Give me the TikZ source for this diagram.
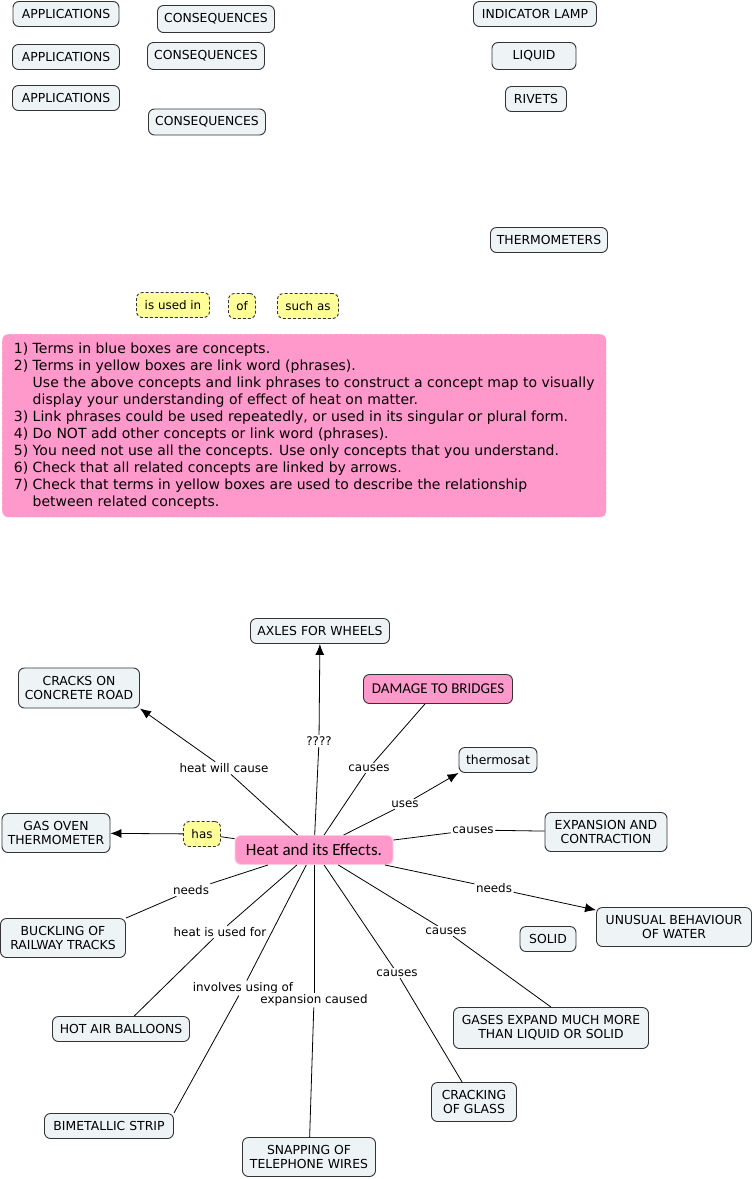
\documentclass[tikz,border=0pt]{standalone}
\usepackage{fontspec}
\setmainfont{DejaVu Sans}
\newfontfamily\handfont{Carlito}
\usetikzlibrary{shapes}
\usetikzlibrary{arrows.meta}

\definecolor{conceptblue}{RGB}{238,243,246}
\definecolor{linkyellow}{RGB}{255,255,153}
\definecolor{mappink}{RGB}{255,153,204}
\definecolor{pinkedge}{RGB}{255,205,222}

\begin{document}
\begin{tikzpicture}[x=1pt,y=-1pt,font=\fontsize{11.9}{14}\selectfont]
\tikzstyle{concept} = [rectangle, draw=black!80, line width=0.9pt, fill=conceptblue,
align=center, rounded corners=6pt, minimum height=25pt, inner xsep=4pt, inner ysep=3pt,
font=\fontsize{12.4}{14}\selectfont]
\tikzstyle{linker} = [rectangle, draw=black!80, line width=0.9pt, dash pattern=on 3pt off 2pt,
fill=linkyellow, rounded corners=6pt, minimum height=25pt, inner xsep=4pt]
\tikzstyle{phrase} = [fill=white, inner sep=1.5pt]
\tikzstyle{topic} = [rectangle, draw=pinkedge, line width=0.9pt, fill=mappink,
rounded corners=6pt, minimum height=29pt, font=\handfont\fontsize{17}{19}\selectfont]
\tikzstyle{connector} = [draw, line width=0.8pt]
\tikzstyle{arrowed} = [draw, line width=0.8pt, -{Latex[length=11pt,width=9pt]}]

\fill[white] (0,0) rectangle (755,1179);
\useasboundingbox (0,0) rectangle (755,1179);

% concepts to be used
\node [concept, minimum width=106pt] (app1) at (66,14) {APPLICATIONS};
\node [concept, minimum width=117pt, minimum height=27pt] (cons1) at (216,19) {CONSEQUENCES};
\node [concept, minimum width=107pt] (app2) at (66,57) {APPLICATIONS};
\node [concept, minimum width=117pt, minimum height=27pt] (cons2) at (206,56) {CONSEQUENCES};
\node [concept, minimum width=107pt] (app3) at (66,98) {APPLICATIONS};
\node [concept, minimum width=117pt, minimum height=26pt] (cons3) at (207,122) {CONSEQUENCES};
\node [concept, minimum width=123pt] (lamp) at (535,14) {INDICATOR LAMP};
\node [concept, minimum width=84pt, minimum height=27pt] (liquid) at (534,56) {LIQUID};
\node [concept, minimum width=61pt] (rivets) at (536,99) {RIVETS};
\node [concept, minimum width=117pt] (thermometers) at (549,240) {THERMOMETERS};

% link phrases to be used
\node [linker, minimum width=73pt] (usedin) at (173,305) {is used in};
\node [linker, minimum width=27pt] (of) at (242,306) {of};
\node [linker, minimum width=61pt] (suchas) at (308,306) {such as};

% instructions
\node [rectangle, draw=pinkedge, dash pattern=on 3pt off 2pt, fill=mappink,
rounded corners=6pt, anchor=north west, minimum width=604pt, minimum height=183pt,
align=left, font=\fontsize{14}{17}\selectfont] (rules) at (2,334)
{1) Terms in blue boxes are concepts.\\
2) Terms in yellow boxes are link word (phrases).\\
\phantom{2) }Use the above concepts and link phrases to construct a concept map to visually\\
\phantom{2) }display your understanding of effect of heat on matter.\\
3) Link phrases could be used repeatedly, or used in its singular or plural form.\\
4) Do NOT add other concepts or link word (phrases).\\
5) You need not use all the concepts. Use only concepts that you understand.\\
6) Check that all related concepts are linked by arrows.\\
7) Check that terms in yellow boxes are used to describe the relationship\\
\phantom{7) }between related concepts.};

% the map
\node [topic, minimum width=158pt] (heat) at (314,850) {Heat and its Effects.};
\node [concept, minimum width=139pt] (axles) at (320,631) {AXLES FOR WHEELS};
\node [concept, minimum width=121pt, minimum height=40pt] (cracks) at (79,688) {CRACKS ON\\CONCRETE ROAD};
\node [topic, draw=black!80, minimum width=149pt, font=\handfont\fontsize{15}{17}\selectfont] (damage) at (438,689) {DAMAGE TO BRIDGES};
\node [concept, minimum width=78pt] (thermosat) at (498,760) {thermosat};
\node [concept, minimum width=108pt, minimum height=39pt] (gasoven) at (56,833) {GAS OVEN\\THERMOMETER};
\node [linker, minimum width=37pt] (has) at (202,834) {has};
\node [concept, minimum width=122pt, minimum height=39pt] (expansion) at (606,832) {EXPANSION AND\\CONTRACTION};
\node [concept, minimum width=155pt, minimum height=39pt] (water) at (674,927) {UNUSUAL BEHAVIOUR\\OF WATER};
\node [concept, minimum width=56pt] (solid) at (548,939) {SOLID};
\node [concept, minimum width=125pt, minimum height=39pt] (buckling) at (63,938) {BUCKLING OF\\RAILWAY TRACKS};
\node [concept, minimum width=137pt] (balloons) at (121,1029) {HOT AIR BALLOONS};
\node [concept, minimum width=195pt, minimum height=41pt] (gases) at (551,1028) {GASES EXPAND MUCH MORE\\THAN LIQUID OR SOLID};
\node [concept, minimum width=85pt, minimum height=39pt] (glass) at (474,1102) {CRACKING\\OF GLASS};
\node [concept, minimum width=129pt] (strip) at (109,1126) {BIMETALLIC STRIP};
\node [concept, minimum width=133pt, minimum height=39pt] (snapping) at (309,1157) {SNAPPING OF\\TELEPHONE WIRES};

% linking words on the map
\node [phrase] (qmarks) at (319,741) {????};
\node [phrase] (willcause) at (224,768) {heat will cause};
\node [phrase] (causesA) at (369,768) {causes};
\node [phrase] (uses) at (405,804) {uses};
\node [phrase] (causesB) at (473,830) {causes};
\node [phrase] (needsA) at (191,890) {needs};
\node [phrase] (needsB) at (494,888) {needs};
\node [phrase] (usedfor) at (220,932) {heat is used for};
\node [phrase] (causesC) at (446,931) {causes};
\node [phrase] (causesD) at (397,973) {causes};
\node [phrase] (involves) at (243,988) {involves using of};
\node [phrase] (caused) at (314,1000) {expansion caused};

\draw[connector] (heat) -- (qmarks);
\draw[arrowed] (qmarks) -- (axles);
\draw[connector] (heat) -- (willcause);
\draw[arrowed] (willcause) -- (cracks.south east);
\draw[connector] (heat) -- (causesA);
\draw[connector] (causesA) -- (damage);
\draw[connector] (heat) -- (uses);
\draw[arrowed] (uses) -- (thermosat.south west);
\draw[connector] (heat) -- (causesB);
\draw[connector] (causesB) -- (expansion);
\draw[connector] (heat) -- (has);
\draw[arrowed] (has) -- (gasoven);
\draw[connector] (heat) -- (needsB);
\draw[arrowed] (needsB) -- (water);
\draw[connector] (heat) -- (needsA);
\draw[connector] (needsA) -- (buckling.north east);
\draw[connector] (heat) -- (usedfor);
\draw[connector] (usedfor) -- (balloons);
\draw[connector] (heat) -- (involves);
\draw[connector] (involves) -- (strip.north east);
\draw[connector] (heat) -- (caused);
\draw[connector] (caused) -- (snapping);
\draw[connector] (heat) -- (causesD);
\draw[connector] (causesD) -- (glass);
\draw[connector] (heat) -- (causesC);
\draw[connector] (causesC) -- (gases.north);
\end{tikzpicture}
\end{document}
